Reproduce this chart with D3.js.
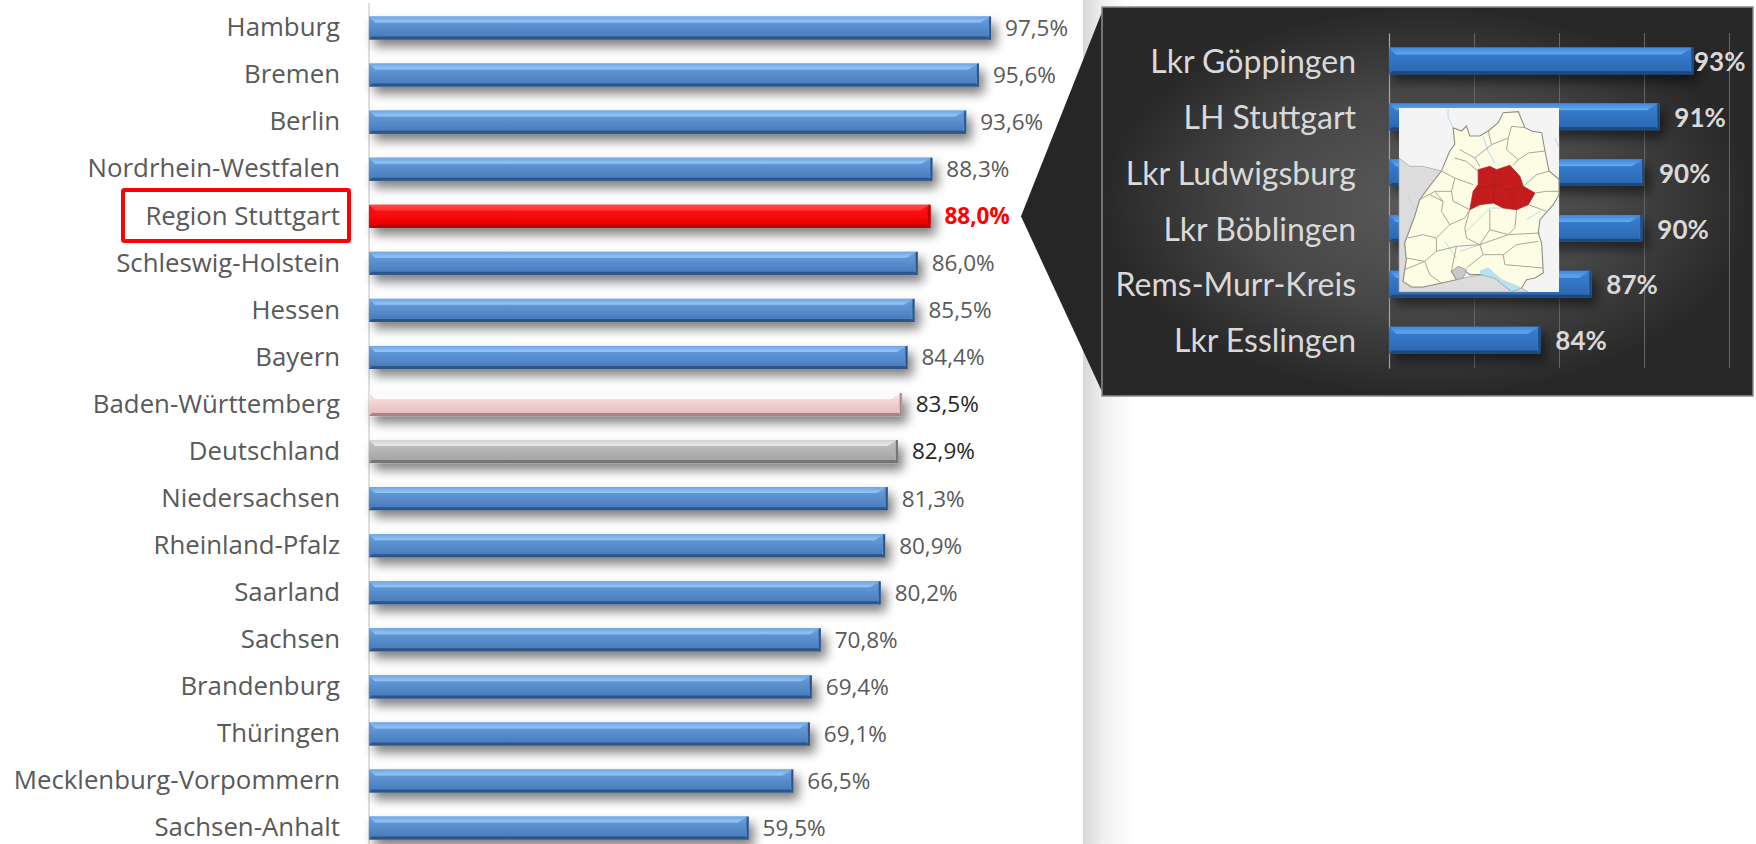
<!DOCTYPE html>
<html>
<head>
<meta charset="utf-8">
<script src="https://cdn.jsdelivr.net/npm/d3@7"></script>
<style>
html, body { margin: 0; padding: 0; background: #fff; overflow: hidden; }
svg { display: block; }
text { font-family: "Open Sans", Lato, sans-serif; }
.inset text { font-family: Lato, "Open Sans", sans-serif; }
</style>
</head>
<body>
<script>
// main chart
var regions = ["Hamburg", "Bremen", "Berlin", "Nordrhein-Westfalen", "Region Stuttgart", "Schleswig-Holstein", "Hessen", "Bayern", "Baden-Württemberg", "Deutschland", "Niedersachsen", "Rheinland-Pfalz", "Saarland", "Sachsen", "Brandenburg", "Thüringen", "Mecklenburg-Vorpommern", "Sachsen-Anhalt"];
var shares = [97.5, 95.6, 93.6, 88.3, 88.0, 86.0, 85.5, 84.4, 83.5, 82.9, 81.3, 80.9, 80.2, 70.8, 69.4, 69.1, 66.5, 59.5];

// inset chart
var districts = ["Lkr Göppingen", "LH Stuttgart", "Lkr Ludwigsburg", "Lkr Böblingen", "Rems-Murr-Kreis", "Lkr Esslingen"];
var districtShares = [92.9, 90.9, 90.0, 89.9, 86.9, 83.9];
var districtTicks = [80, 85, 90, 95];

// map sketch, in pixels of a 3x crop of the locator map
var mapState = [[220,99],[245,109],[260,94],[270,124],[300,124],[325,109],[355,84],[370,54],[415,51],[435,99],[455,109],[485,114],[495,169],[507,229],[537,254],[537,300],[520,330],[480,375],[475,415],[485,445],[490,535],[465,550],[440,555],[425,580],[395,590],[345,550],[305,540],[270,540],[250,525],[215,530],[230,555],[185,565],[130,577],[95,577],[70,560],[80,495],[75,445],[105,365],[120,315],[150,274],[185,229],[210,169],[225,149]];
var mapGrey = [[58,190],[90,215],[130,215],[185,229],[150,274],[120,315],[105,365],[75,445],[80,495],[70,560],[95,577],[130,577],[185,565],[230,555],[250,550],[305,540],[345,550],[395,590],[425,580],[445,592],[58,592]];
var mapEnclave = [[215,530],[235,515],[260,525],[250,550],[230,555]];
var mapLake = [[300,530],[325,520],[365,555],[425,580],[395,590],[345,550],[305,540]];
var mapRegion = [[295,225],[330,215],[350,225],[390,212],[420,245],[430,275],[465,295],[445,330],[410,345],[370,340],[340,325],[300,330],[270,345],[280,290],[295,270]];
var mapBorders = [
  [[335,150],[325,109]], [[285,190],[335,150],[385,130],[395,95],[435,99]],
  [[385,130],[380,165],[415,195],[445,175],[495,169]], [[415,195],[400,212]],
  [[285,190],[300,215]], [[240,165],[285,190]], [[225,190],[260,200],[295,230]],
  [[185,229],[225,250],[280,270]], [[225,250],[215,290],[165,290]], [[215,290],[220,320],[270,345]],
  [[165,290],[190,320],[185,350],[210,390],[255,370],[270,345]], [[150,300],[190,320]],
  [[430,275],[470,240],[507,229]], [[465,295],[500,290],[537,290]], [[445,330],[500,350]],
  [[410,345],[405,400],[385,420],[330,405]], [[330,345],[330,405],[300,450]],
  [[270,345],[255,400],[260,430],[300,450],[385,420],[480,415]],
  [[85,430],[130,420],[170,430],[210,390]], [[170,430],[170,470],[230,455],[300,450]],
  [[300,450],[310,480],[370,480],[410,450],[475,440]], [[370,480],[375,510],[490,520]],
  [[310,480],[260,520]], [[80,490],[135,500],[170,470]], [[135,500],[150,540],[185,565]],
  [[75,525],[135,500]], [[215,530],[230,455]], [[120,315],[165,290]]
];
var mapRegionBorders = [[[340,225],[345,270],[300,280]], [[345,270],[340,325]], [[345,270],[390,285],[410,345]], [[390,285],[430,275]]];
var mapRivers = [[[205,45],[205,69],[220,99]], [[310,125],[325,170],[345,205]], [[255,415],[330,340],[370,340]], [[195,440],[230,490]], [[240,470],[300,450]], [[525,130],[537,160]], [[85,300],[105,345]], [[440,375],[480,350]]];

var width = 1756,
    height = 844;

var svg = d3.select("body").append("svg")
    .attr("width", width)
    .attr("height", height);

var defs = svg.append("defs");

var shadow = defs.append("filter").attr("id", "shadow")
    .attr("x", "-5%").attr("y", "-60%").attr("width", "112%").attr("height", "300%");
shadow.append("feGaussianBlur").attr("in", "SourceAlpha").attr("stdDeviation", 5.5);
shadow.append("feOffset").attr("dx", 5).attr("dy", 7).attr("result", "off");
shadow.append("feComponentTransfer").attr("result", "blur").append("feFuncA").attr("type", "linear").attr("slope", 0.5);
var merge = shadow.append("feMerge");
merge.append("feMergeNode").attr("in", "blur");
merge.append("feMergeNode").attr("in", "SourceGraphic");

defs.append("filter").attr("id", "soft").append("feGaussianBlur").attr("stdDeviation", 0.45);

function gradient(id, stops, attrs) {
    var g = defs.append(attrs && attrs.radial ? "radialGradient" : "linearGradient").attr("id", id);
    if (!attrs || !attrs.radial) {
        g.attr("x1", 0).attr("y1", 0).attr("x2", attrs && attrs.horizontal ? 1 : 0).attr("y2", attrs && attrs.horizontal ? 0 : 1);
    }
    stops.forEach(function(s) {
        g.append("stop").attr("offset", s[0]).attr("stop-color", s[1]).attr("stop-opacity", s[2] === undefined ? 1 : s[2]);
    });
}

var themes = {
    blue:  { top: ["#6ea6e2", "#97c6f6"], mid: ["#6ba1e0", "#4478b8"], bottom: "#2f5587", side: "#5a8fd0", text: "#595959" },
    red:   { top: ["#ff4a4a", "#ff3030"], mid: ["#ff1010", "#e80000"], bottom: "#a80808", side: "#f00000", text: "#ff0000" },
    pink:  { top: ["#fff6f6", "#ffffff"], mid: ["#fbe6e6", "#e4b8b8"], bottom: "#a98585", side: "#ecc8c8", text: "#262626" },
    grey:  { top: ["#d0d0d0", "#ececec"], mid: ["#c4c4c4", "#a0a0a0"], bottom: "#757575", side: "#b0b0b0", text: "#262626" },
    deep:  { top: ["#3f86d8", "#62aaf2"], mid: ["#3a80d2", "#2a66b0"], bottom: "#1c4880", side: "#3478c8", text: "#d9d9d9" }
};
Object.keys(themes).forEach(function(k) {
    gradient("top-" + k, [[0, themes[k].top[0]], [1, themes[k].top[1]]]);
    gradient("mid-" + k, [[0, themes[k].mid[0]], [1, themes[k].mid[1]]]);
});
gradient("panelFill", [[0, "#5a5a5a"], [0.55, "#474747"], [1, "#282828"]], { radial: true });
gradient("edgeFade", [[0, "#d6d6d6"], [0.4, "#f0f0f0"], [1, "#ffffff"]], { horizontal: true });

function themeOf(name) {
    if (name == "Region Stuttgart") return "red";
    if (name == "Baden-Württemberg") return "pink";
    if (name == "Deutschland") return "grey";
    return "blue";
}

// 3d look of the excel bars
function drawBars(g, rows, x, y, bevel, theme) {
    var bar = g.selectAll("g.bar").data(rows).enter().append("g")
        .attr("class", "bar")
        .attr("filter", "url(#shadow)");

    function pts(arr) { return arr.map(function(p) { return p.join(","); }).join(" "); }

    bar.append("rect")
        .attr("x", x.range()[0])
        .attr("y", function(d) { return y(d.name); })
        .attr("width", function(d) { return x(d.value) - x.range()[0]; })
        .attr("height", y.bandwidth())
        .attr("fill", function(d) { return "url(#mid-" + theme(d) + ")"; });
    bar.append("polygon")
        .attr("fill", function(d) { return themes[theme(d)].bottom; })
        .attr("points", function(d) {
            var x0 = x.range()[0], x1 = x(d.value), b = y(d.name) + y.bandwidth();
            return pts([[x0, b], [x1, b], [x1 - 3, b - 3], [x0 + 3, b - 3]]);
        });
    bar.append("polygon")
        .attr("fill", function(d) { return themes[theme(d)].side; })
        .attr("points", function(d) {
            var x1 = x(d.value), t = y(d.name), b = t + y.bandwidth();
            return pts([[x1, t], [x1, b - 3], [x1 - 3, b - 3], [x1 - 3, t + bevel]]);
        });
    // top band runs into the upper right corner
    bar.append("polygon")
        .attr("fill", function(d) { return "url(#top-" + theme(d) + ")"; })
        .attr("points", function(d) {
            var x0 = x.range()[0], x1 = x(d.value), t = y(d.name);
            return pts([[x0, t], [x1 - 1, t], [x1 - 1 - bevel * 1.6, t + bevel], [x0 + bevel, t + bevel]]);
        });
    bar.append("line")
        .attr("x1", function(d) { return x(d.value) - 1; })
        .attr("x2", function(d) { return x(d.value) - 1; })
        .attr("y1", function(d) { return y(d.name); })
        .attr("y2", function(d) { return y(d.name) + y.bandwidth(); })
        .attr("stroke", function(d) { return themes[theme(d)].bottom; })
        .attr("stroke-width", 2);
}

// soft grey edge behind the callout
svg.append("rect")
    .attr("x", 1083).attr("y", 0)
    .attr("width", 50).attr("height", height)
    .attr("fill", "url(#edgeFade)");

// ---------- main chart
var rows = regions.map(function(n, i) { return { name: n, value: shares[i] }; });

var x = d3.scaleLinear().domain([0, 100]).range([369, 1007]);
var y = d3.scaleBand().domain(regions).range([4.5, 851.6]).paddingInner(0.51).paddingOuter(0.255);

var fmt = d3.formatLocale({ decimal: ",", thousands: ".", grouping: [3], currency: ["", " €"] }).format(".1f");

var chart = svg.append("g");

var yAxis = chart.append("g")
    .attr("transform", "translate(" + x.range()[0] + ",0)")
    .call(d3.axisLeft(y).tickSize(0).tickPadding(29));
yAxis.select(".domain").attr("stroke", "#d4d4d4").attr("stroke-width", 1.5).attr("d", "M0,3V" + height);
yAxis.selectAll("text")
    .attr("fill", "#595959")
    .style("font-size", "25.8px");

drawBars(chart, rows, x, y, 6, function(d) { return themeOf(d.name); });

chart.selectAll("text.value").data(rows).enter().append("text")
    .attr("class", "value")
    .attr("x", function(d) { return x(d.value) + 14; })
    .attr("y", function(d) { return y(d.name) + y.bandwidth() / 2; })
    .attr("dy", ".35em")
    .attr("fill", function(d) { return themes[themeOf(d.name)].text; })
    .attr("font-weight", function(d) { return d.name == "Region Stuttgart" ? "bold" : "normal"; })
    .style("font-size", "22.5px")
    .text(function(d) { return fmt(d.value) + "%"; });

// box around Region Stuttgart
chart.append("rect")
    .attr("x", 123).attr("y", 190)
    .attr("width", 226).attr("height", 51)
    .attr("rx", 1.5)
    .attr("fill", "none")
    .attr("stroke", "#ff0000")
    .attr("stroke-width", 4);

// ---------- callout
var panel = { left: 1102, top: 7, right: 1753, bottom: 396 };

svg.append("polygon")
    .attr("fill", "#262626")
    .attr("points", [[panel.left + 2, panel.top], [1021, y("Region Stuttgart") + y.bandwidth() / 2], [panel.left + 2, panel.bottom]].map(function(p) { return p.join(","); }).join(" "));

svg.append("rect")
    .attr("x", panel.left).attr("y", panel.top)
    .attr("width", panel.right - panel.left).attr("height", panel.bottom - panel.top)
    .attr("fill", "url(#panelFill)")
    .attr("stroke", "#8c8c8c")
    .attr("stroke-width", 1.5);

var districtRows = districts.map(function(n, i) { return { name: n, value: districtShares[i] }; });

var xIn = d3.scaleLinear().domain([75, 95]).range([1389, 1729]);
var yIn = d3.scaleBand().domain(districts).range([33, 368]).paddingInner(0.52).paddingOuter(0.26);

var inset = svg.append("g").attr("class", "inset");

var grid = inset.append("g")
    .attr("transform", "translate(0,368)")
    .call(d3.axisBottom(xIn).tickValues(districtTicks).tickSize(-335).tickFormat(""));
grid.select(".domain").remove();
grid.selectAll("line").attr("stroke", "#666");

var yInAxis = inset.append("g")
    .attr("transform", "translate(" + xIn.range()[0] + ",0)")
    .call(d3.axisLeft(yIn).tickSize(0).tickPadding(33));
yInAxis.select(".domain").attr("stroke", "#a6a6a6").attr("stroke-width", 1.2);
yInAxis.selectAll("text")
    .attr("fill", "#d9d9d9")
    .attr("dy", ".38em")
    .style("font-size", "32px");

drawBars(inset, districtRows, xIn, yIn, 7, function() { return "deep"; });

inset.selectAll("text.value").data(districtRows).enter().append("text")
    .attr("class", "value")
    .attr("x", function(d) { return Math.min(xIn(d.value) + 15, 1694); })
    .attr("y", function(d) { return yIn(d.name) + yIn.bandwidth() / 2 + 1; })
    .attr("dy", ".35em")
    .attr("fill", "#d9d9d9")
    .attr("font-weight", "bold")
    .style("font-size", "26px")
    .text(function(d) { return d3.format(".0f")(d.value) + "%"; });

// ---------- locator map
var mx = d3.scaleLinear().domain([58, 537]).range([1399, 1559]);
var my = d3.scaleLinear().domain([40, 592]).range([108, 292]);
var mapLine = d3.line().x(function(p) { return mx(p[0]); }).y(function(p) { return my(p[1]); });
function closed(p) { return mapLine(p) + "Z"; }

var map = svg.append("g").attr("filter", "url(#soft)");
map.append("rect")
    .attr("x", mx(58)).attr("y", my(40))
    .attr("width", mx(537) - mx(58)).attr("height", my(592) - my(40))
    .attr("fill", "#f4f4f4");
map.append("path").attr("d", closed(mapGrey)).attr("fill", "#dcdcdc").attr("stroke", "#9a9a9a").attr("stroke-width", 0.6);
map.append("path").attr("d", closed(mapState)).attr("fill", "#fdfde6").attr("stroke", "#8f8f82").attr("stroke-width", 1.1);
map.selectAll("path.river").data(mapRivers).enter().append("path")
    .attr("class", "river")
    .attr("d", mapLine).attr("fill", "none").attr("stroke", "#b5dbe8").attr("stroke-width", 1);
map.selectAll("path.border").data(mapBorders).enter().append("path")
    .attr("class", "border")
    .attr("d", mapLine).attr("fill", "none").attr("stroke", "#a8a898").attr("stroke-width", 1);
map.append("path").attr("d", closed(mapEnclave)).attr("fill", "#c8c8c8").attr("stroke", "#8c8c8c").attr("stroke-width", 0.7);
map.append("path").attr("d", closed(mapLake)).attr("fill", "#b9e3f2").attr("stroke", "#9fd0e2").attr("stroke-width", 0.6);
map.append("path").attr("d", closed(mapRegion)).attr("fill", "#c41a1c").attr("stroke", "#a82a2a").attr("stroke-width", 0.8);
map.selectAll("path.regionBorder").data(mapRegionBorders).enter().append("path")
    .attr("class", "regionBorder")
    .attr("d", mapLine).attr("fill", "none").attr("stroke", "#a51f22").attr("stroke-width", 0.8);
</script>
</body>
</html>
